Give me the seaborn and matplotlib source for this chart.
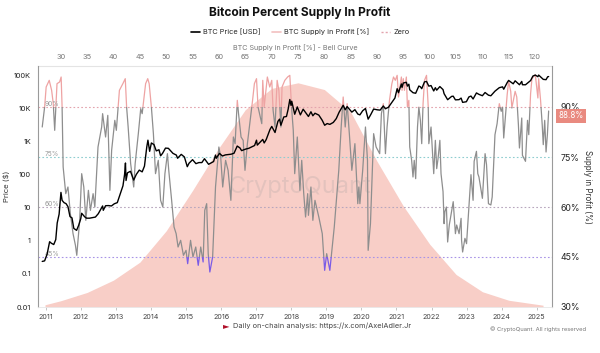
import numpy as np
import pandas as pd
import matplotlib
matplotlib.use("Agg")
import matplotlib.pyplot as plt
import matplotlib.dates as mdates
import matplotlib.transforms as mtransforms
from matplotlib.patches import Rectangle
from matplotlib.lines import Line2D
import seaborn as sns

# values (daily line thinned to turning points)

price_dates = [
    "2010-11-25", "2010-12-20", "2011-01-15", "2011-02-10", "2011-03-01", "2011-03-25", "2011-04-15",
    "2011-04-30", "2011-05-20", "2011-06-08", "2011-06-20", "2011-07-10", "2011-07-31", "2011-08-20",
    "2011-09-10", "2011-10-01", "2011-10-20", "2011-11-18", "2011-12-10", "2011-12-31", "2012-01-10",
    "2012-02-10", "2012-03-01", "2012-04-01", "2012-05-01", "2012-06-01", "2012-07-01", "2012-08-15",
    "2012-08-22", "2012-09-15", "2012-10-15", "2012-11-15", "2012-12-15", "2013-01-15", "2013-02-15",
    "2013-03-15", "2013-04-01", "2013-04-10", "2013-04-16", "2013-05-01", "2013-06-01", "2013-07-05",
    "2013-08-01", "2013-09-01", "2013-10-01", "2013-10-25", "2013-11-18", "2013-11-30", "2013-12-18",
    "2014-01-05", "2014-02-01", "2014-02-25", "2014-03-25", "2014-04-11", "2014-05-01", "2014-06-01",
    "2014-07-01", "2014-08-18", "2014-09-22", "2014-10-05", "2014-11-12", "2014-12-15", "2015-01-14",
    "2015-02-01", "2015-03-10", "2015-04-14", "2015-05-15", "2015-06-15", "2015-07-12", "2015-08-24",
    "2015-09-20", "2015-10-15", "2015-11-04", "2015-11-12", "2015-12-15", "2016-01-15", "2016-02-15",
    "2016-03-15", "2016-04-15", "2016-05-15", "2016-06-17", "2016-07-15", "2016-08-02", "2016-09-15",
    "2016-10-15", "2016-11-15", "2016-12-15", "2017-01-04", "2017-01-12", "2017-02-15", "2017-03-10",
    "2017-03-25", "2017-04-15", "2017-05-25", "2017-06-12", "2017-07-16", "2017-08-15", "2017-09-01",
    "2017-09-15", "2017-10-15", "2017-11-12", "2017-11-30", "2017-12-17", "2017-12-30", "2018-01-06",
    "2018-02-06", "2018-03-05", "2018-04-06", "2018-05-05", "2018-06-29", "2018-07-25", "2018-08-14",
    "2018-09-05", "2018-10-15", "2018-11-20", "2018-12-15", "2019-01-10", "2019-02-07", "2019-03-15",
    "2019-04-15", "2019-05-15", "2019-06-26", "2019-07-17", "2019-08-06", "2019-09-24", "2019-10-26",
    "2019-11-25", "2019-12-17", "2020-01-15", "2020-02-13", "2020-03-12", "2020-04-10", "2020-05-08",
    "2020-06-15", "2020-07-15", "2020-08-17", "2020-09-08", "2020-10-10", "2020-11-15", "2020-12-16",
    "2021-01-08", "2021-01-22", "2021-02-21", "2021-02-28", "2021-03-13", "2021-04-14", "2021-04-25",
    "2021-05-10", "2021-05-19", "2021-06-22", "2021-07-20", "2021-08-22", "2021-09-07", "2021-09-21",
    "2021-10-20", "2021-11-10", "2021-12-04", "2021-12-27", "2022-01-24", "2022-02-10", "2022-02-24",
    "2022-03-29", "2022-05-01", "2022-05-12", "2022-06-18", "2022-07-30", "2022-08-15", "2022-09-07",
    "2022-10-15", "2022-11-05", "2022-11-21", "2022-12-30", "2023-01-25", "2023-02-16", "2023-03-10",
    "2023-04-14", "2023-05-10", "2023-06-15", "2023-07-13", "2023-08-17", "2023-09-11", "2023-10-24",
    "2023-12-08", "2024-01-11", "2024-01-23", "2024-02-28", "2024-03-14", "2024-04-17", "2024-05-01",
    "2024-05-21", "2024-07-05", "2024-07-29", "2024-08-05", "2024-09-06", "2024-10-29", "2024-11-22",
    "2024-12-17", "2025-01-13", "2025-01-21", "2025-02-27", "2025-03-10", "2025-04-08", "2025-04-25",
    "2025-05-05",
]
price_usd = [
    0.24, 0.25, 0.40, 0.95, 0.85, 0.78, 1.1,
    3.5, 6.5, 29.6, 17, 14.5, 13.5, 11,
    5.5, 5.0, 2.4, 2.1, 3.0, 4.7, 6.9,
    5.4, 4.9, 4.9, 5.1, 5.3, 6.7, 11.5,
    8.5, 11.7, 11.8, 11.5, 13.4, 14.5, 27,
    47, 104, 230, 68, 116, 129, 70,
    104, 140, 124, 185, 700, 1130, 520,
    930, 830, 535, 580, 380, 450, 650,
    640, 450, 400, 320, 420, 350, 178,
    226, 290, 220, 237, 237, 310, 210,
    232, 255, 400, 320, 450, 375, 405,
    415, 425, 455, 750, 660, 545, 610,
    640, 710, 780, 1130, 800, 1010, 1190,
    930, 1180, 2400, 2950, 1930, 4200, 4900,
    3200, 5700, 5900, 9900, 19300, 12700, 17100,
    6900, 11500, 6600, 9800, 5900, 8200, 6200,
    7400, 6500, 4500, 3200, 3600, 3400, 3900,
    5100, 8000, 12900, 9400, 11800, 8000, 9500,
    7000, 6600, 8800, 10300, 4900, 6900, 9900,
    9400, 9200, 12300, 10100, 11300, 16000, 21400,
    41000, 31000, 57000, 45000, 61000, 64000, 49000,
    56000, 38000, 31000, 29800, 49300, 46800, 41000,
    66000, 68000, 49000, 51000, 35000, 44000, 37000,
    47500, 38500, 28900, 19000, 24000, 24300, 18800,
    19100, 21300, 15800, 16500, 23000, 24500, 20000,
    30500, 27600, 25100, 31400, 26100, 25000, 34500,
    44000, 46600, 39500, 62500, 73000, 61300, 57600,
    71000, 54000, 68000, 54000, 53900, 72300, 98900,
    106000, 94500, 106000, 84500, 78500, 77000, 94000,
    95500,
]

supply_dates = [
    "2010-11-25", "2010-12-20", "2011-01-05", "2011-02-06", "2011-03-03", "2011-03-20", "2011-04-04",
    "2011-04-28", "2011-05-25", "2011-06-10", "2011-06-20", "2011-07-01", "2011-07-28", "2011-08-20",
    "2011-09-14", "2011-10-12", "2011-11-06", "2011-11-20", "2011-12-20", "2012-01-10", "2012-02-01",
    "2012-02-22", "2012-03-20", "2012-04-10", "2012-05-08", "2012-05-26", "2012-06-28", "2012-08-05",
    "2012-08-15", "2012-09-15", "2012-10-08", "2012-10-30", "2012-11-17", "2012-12-20", "2013-01-05",
    "2013-02-06", "2013-03-14", "2013-04-08", "2013-04-22", "2013-05-08", "2013-06-03", "2013-07-05",
    "2013-07-20", "2013-08-22", "2013-09-16", "2013-10-01", "2013-11-06", "2013-11-28", "2013-12-13",
    "2014-01-05", "2014-01-26", "2014-02-17", "2014-03-18", "2014-04-11", "2014-05-04", "2014-05-26",
    "2014-06-21", "2014-07-05", "2014-08-04", "2014-08-29", "2014-09-20", "2014-10-10", "2014-11-06",
    "2014-12-05", "2015-01-01", "2015-01-18", "2015-02-17", "2015-03-14", "2015-04-12", "2015-05-08",
    "2015-06-03", "2015-06-28", "2015-07-15", "2015-08-04", "2015-08-20", "2015-09-06", "2015-10-05",
    "2015-11-04", "2015-12-09", "2015-12-28", "2016-01-18", "2016-02-17", "2016-03-14", "2016-04-12",
    "2016-05-08", "2016-05-26", "2016-06-18", "2016-07-01", "2016-07-27", "2016-08-18", "2016-09-06",
    "2016-10-01", "2016-10-30", "2016-11-24", "2016-12-13", "2017-01-04", "2017-01-20", "2017-02-28",
    "2017-03-10", "2017-03-25", "2017-04-27", "2017-05-22", "2017-06-12", "2017-06-26", "2017-07-16",
    "2017-08-07", "2017-08-25", "2017-09-15", "2017-09-27", "2017-10-26", "2017-11-24", "2017-12-17",
    "2018-01-04", "2018-01-22", "2018-02-06", "2018-03-05", "2018-04-01", "2018-04-20", "2018-05-11",
    "2018-05-30", "2018-06-21", "2018-06-29", "2018-07-25", "2018-08-14", "2018-09-05", "2018-10-15",
    "2018-11-20", "2018-12-15", "2019-01-05", "2019-02-07", "2019-03-25", "2019-04-16", "2019-05-11",
    "2019-06-05", "2019-06-26", "2019-07-17", "2019-08-06", "2019-08-29", "2019-09-24", "2019-10-26",
    "2019-11-25", "2019-12-06", "2019-12-17", "2020-01-15", "2020-02-13", "2020-03-05", "2020-03-12",
    "2020-04-05", "2020-05-08", "2020-06-03", "2020-07-10", "2020-07-28", "2020-08-17", "2020-09-08",
    "2020-09-25", "2020-10-20", "2020-11-14", "2020-12-01", "2020-12-20", "2021-01-08", "2021-01-22",
    "2021-02-21", "2021-02-28", "2021-03-13", "2021-03-25", "2021-04-14", "2021-04-25", "2021-05-10",
    "2021-05-19", "2021-06-08", "2021-06-22", "2021-07-05", "2021-07-20", "2021-08-08", "2021-08-22",
    "2021-09-07", "2021-09-21", "2021-10-05", "2021-10-20", "2021-11-10", "2021-11-28", "2021-12-04",
    "2021-12-27", "2022-01-10", "2022-01-24", "2022-02-10", "2022-02-24", "2022-03-10", "2022-03-29",
    "2022-04-10", "2022-05-01", "2022-05-12", "2022-05-20", "2022-06-05", "2022-06-18", "2022-07-05",
    "2022-08-15", "2022-09-07", "2022-09-20", "2022-10-15", "2022-11-05", "2022-11-10", "2022-11-21",
    "2022-12-15", "2023-01-01", "2023-01-25", "2023-02-16", "2023-03-10", "2023-03-21", "2023-04-14",
    "2023-04-28", "2023-05-10", "2023-06-15", "2023-07-13", "2023-07-28", "2023-08-17", "2023-09-11",
    "2023-09-25", "2023-10-24", "2023-11-15", "2023-12-08", "2023-12-28", "2024-01-11", "2024-01-23",
    "2024-02-28", "2024-03-14", "2024-04-05", "2024-04-17", "2024-05-21", "2024-06-07", "2024-06-24",
    "2024-07-05", "2024-07-29", "2024-08-05", "2024-09-06", "2024-09-27", "2024-10-10", "2024-10-29",
    "2024-11-12", "2024-12-17", "2025-01-13", "2025-01-21", "2025-02-10", "2025-02-27", "2025-03-10",
    "2025-03-25", "2025-04-08", "2025-04-22", "2025-05-05",
]
supply_pct = [
    84, 90, 96, 98, 95, 91, 83,
    97, 97.5, 99, 90, 72, 64, 66,
    58, 52, 48.5, 45.5, 56, 70, 66,
    56, 65, 59, 64, 60, 78, 84,
    88, 81, 87.5, 65, 77, 86, 83,
    95, 97, 98.5, 90, 84, 73, 66,
    73, 82, 89.5, 88, 97, 98.5, 97,
    90, 82, 70, 74, 62, 60, 70,
    76, 71, 62, 54, 52, 48, 50,
    45.5, 47, 43, 50, 45, 48, 42.5,
    48, 43.5, 59, 61, 46, 40.5, 45,
    66, 78, 75, 66, 74, 71, 62,
    81, 79, 92, 88, 81, 80, 71,
    79, 86, 92, 97, 98.5, 90, 85,
    98, 90, 99, 96, 98, 89, 84,
    98, 95, 84, 96, 98, 99, 99.5,
    90, 83, 70, 81, 65, 74, 64,
    57, 64, 57.5, 66, 56, 62, 57,
    52, 41, 46, 41, 54, 62, 71,
    84, 93, 84, 91, 82, 71, 79,
    61, 66, 61, 71, 84, 74, 47,
    55, 82, 78, 76, 88, 91, 76,
    84, 92, 97, 99, 98, 99.5, 93,
    99, 95, 98.5, 95, 99, 90, 92,
    78, 74, 69, 74, 68.5, 84, 90,
    86, 79, 91, 98, 99.5, 90, 79,
    84, 77, 70, 80, 71.5, 74.5, 80,
    70, 64.6, 55, 58.6, 60, 49.5, 54.6,
    61.6, 52, 54.6, 52, 56.6, 50, 46.5,
    50.6, 49, 60, 69.7, 62, 73.7, 76.7,
    70, 69, 62.6, 76, 72.7, 61, 60.6,
    63, 81.7, 85, 91, 88.7, 90, 80.7,
    93.7, 97.7, 94.7, 89.7, 94.7, 93, 84.7,
    77.7, 86.7, 75.5, 73.7, 86, 81.7, 94,
    98.5, 99.7, 92.7, 98.5, 92, 84.7, 78.7,
    86, 76.5, 81.7, 88.8,
]

# bell curve on the top axis: supply-in-profit level vs relative height
bell_level = [27, 30, 35, 40, 45, 50, 55, 60, 65, 70, 75, 80, 85, 90, 95, 100, 105, 110, 115, 121.5]
bell_height = [0.010, 0.028, 0.065, 0.12, 0.20, 0.34, 0.52, 0.71, 0.88, 0.975, 1.00, 0.97, 0.87, 0.65,
               0.45, 0.28, 0.145, 0.068, 0.03, 0.008]

level_values = [90, 75, 60, 45]
level_names = ["90%", "75%", "60%", "45%"]
level_colors = ["#e3a3ad", "#8ecdd0", "#b7a6bd", "#a893e6"]
current_label = "88.8%"

sns.set_theme(style="white")
plt.rcParams['font.family'] = ['Inter', 'DejaVu Sans']

price_df = pd.DataFrame({'date': pd.to_datetime(price_dates), 'price': price_usd})
supply_df = pd.DataFrame({'date': pd.to_datetime(supply_dates), 'pct': supply_pct})

fig = plt.figure(figsize=(6, 3.53), dpi=100)
rect = [38 / 600, 1 - 307 / 353, (552 - 38) / 600, (307 - 66) / 353]
ax_bell = fig.add_axes(rect, zorder=0)
ax_sup = fig.add_axes(rect, zorder=1)
ax_price = fig.add_axes(rect, zorder=2)
ax_sup.patch.set_alpha(0)
ax_price.patch.set_alpha(0)

x_lo, x_hi = pd.Timestamp("2010-10-12"), pd.Timestamp("2025-06-09")

# bell curve
ax_bell.fill_between(bell_level, bell_height, 0, color="#f8cec7", lw=0)
ax_bell.set_xlim(25.67, 123.2)
ax_bell.set_ylim(0, 1.075)
ax_bell.xaxis.tick_top()
ax_bell.xaxis.set_label_position('top')
ax_bell.set_xticks(range(30, 121, 5))
ax_bell.tick_params(axis='x', labelsize=5.3, labelcolor="#777777", length=0, pad=4)
ax_bell.set_xlabel("BTC Supply in Profit [%] - Bell Curve", fontsize=5.2, color="#777777", labelpad=3)
ax_bell.set_yticks([])
for side in ['left', 'right', 'bottom']:
    ax_bell.spines[side].set_visible(False)
ax_bell.spines['top'].set_color("#e4e4e4")
ax_bell.spines['top'].set_linewidth(0.8)
ax_bell.text(0.51, 0.50, "CryptoQuant", transform=ax_bell.transAxes, ha='center', va='center',
             fontsize=17, color="#9a9a9a", alpha=0.22)

# supply in profit, coloured by band
blend = mtransforms.blended_transform_factory(ax_sup.transAxes, ax_sup.transData)
bands = [(0, 45, "#7b5ce6"), (45, 90, "#8e8e8e"), (90, 200, "#eea3a3")]
for lo, hi, col in bands:
    sns.lineplot(data=supply_df, x='date', y='pct', ax=ax_sup, color=col, lw=0.9)
    clip = Rectangle((0, lo), 1, hi - lo, transform=blend)
    ax_sup.lines[-1].set_clip_path(clip)

for val, name, col in zip(level_values, level_names, level_colors):
    ax_sup.axhline(val, color=col, ls=(0, (1.5, 2.0)), lw=0.8, zorder=0)
    ax_sup.text(0.013, val + 1.0, name, transform=blend, fontsize=4.8, color="#9a9a9a", va='center')

ax_sup.set_xlim(x_lo, x_hi)
ax_sup.set_ylim(30, 102.3)
ax_sup.yaxis.tick_right()
ax_sup.yaxis.set_label_position('right')
ax_sup.set_yticks([30, 45, 60, 75, 90])
ax_sup.set_yticklabels(["30%", "45%", "60%", "75%", "90%"])
ax_sup.tick_params(axis='y', labelsize=6.3, labelcolor="#222222", length=0, pad=6)
ax_sup.set_ylabel("Supply in Profit (%)", rotation=270, fontsize=5.8, color="#333333", labelpad=9)
ax_sup.set_xticks([])
ax_sup.set_xlabel("")
for side in ['left', 'top', 'bottom']:
    ax_sup.spines[side].set_visible(False)
ax_sup.spines['right'].set_color("#9a9a9a")
ax_sup.spines['right'].set_linewidth(0.8)
ax_sup.text(1.012, 87.4, current_label, transform=blend, ha='left', va='center', fontsize=5.8,
            color="white", bbox=dict(boxstyle='square,pad=0.3', fc="#e98a80", ec='none'))

# price
sns.lineplot(data=price_df, x='date', y='price', ax=ax_price, color="black", lw=1.0)
ax_price.set_yscale('log')
ax_price.set_ylim(0.01, 10 ** 5.30)
ax_price.set_xlim(x_lo, x_hi)
price_ticks = [0.01, 0.1, 1, 10, 100, 1000, 10000, 100000]
ax_price.set_yticks(price_ticks)
ax_price.set_yticklabels(["0.01", "0.1", "1", "10", "100", "1K", "10K", "100K"])
ax_price.yaxis.set_minor_locator(matplotlib.ticker.NullLocator())
ax_price.tick_params(axis='y', labelsize=5.3, labelcolor="#222222", length=0, pad=5)
ax_price.set_ylabel("Price ($)", fontsize=5.6, color="#333333", labelpad=3)
ax_price.set_xlabel("")
ax_price.xaxis.set_major_locator(mdates.YearLocator())
ax_price.xaxis.set_major_formatter(mdates.DateFormatter('%Y'))
ax_price.tick_params(axis='x', labelsize=5.2, labelcolor="#444444", length=2, width=0.6,
                     color="#bbbbbb", pad=3, bottom=True)
for side in ['right', 'top']:
    ax_price.spines[side].set_visible(False)
ax_price.spines['bottom'].set_color("#e8e8e8")
ax_price.spines['bottom'].set_linewidth(0.6)
ax_price.spines['left'].set_color("#9a9a9a")
ax_price.spines['left'].set_linewidth(0.8)

# title, legend, footer
fig.text(0.5, 1 - 13 / 353, "Bitcoin Percent Supply In Profit", ha='center', va='center',
         fontsize=8.6, fontweight='bold', color="#111111")
handles = [Line2D([], [], color="black", lw=1.2),
           Line2D([], [], color="#f2c0c0", lw=1.2),
           Line2D([], [], color="#e3a3ad", lw=1.0, ls=(0, (1.5, 1.5)))]
fig.legend(handles, ["BTC Price [USD]", "BTC Supply in Profit [%]", "Zero"], loc='center',
           bbox_to_anchor=(0.5, 1 - 32 / 353), ncol=3, frameon=False, fontsize=5.3,
           handlelength=1.2, handletextpad=0.5, columnspacing=1.5)

fig.text(226 / 600, 1 - 326 / 353, "\u25ba", ha='center', va='center', fontsize=6, color="#b0102a",
         family=['DejaVu Sans'])
fig.text(233 / 600, 1 - 326 / 353, "Daily on-chain analysis: https://x.com/AxelAdler.Jr", ha='left',
         va='center', fontsize=5.3, color="#444444")
fig.text(586 / 600, 1 - 329 / 353, "\u00a9 CryptoQuant. All rights reserved", ha='right', va='center',
         fontsize=4.2, color="#777777")

fig.savefig("out.png", dpi=100, facecolor="white")
